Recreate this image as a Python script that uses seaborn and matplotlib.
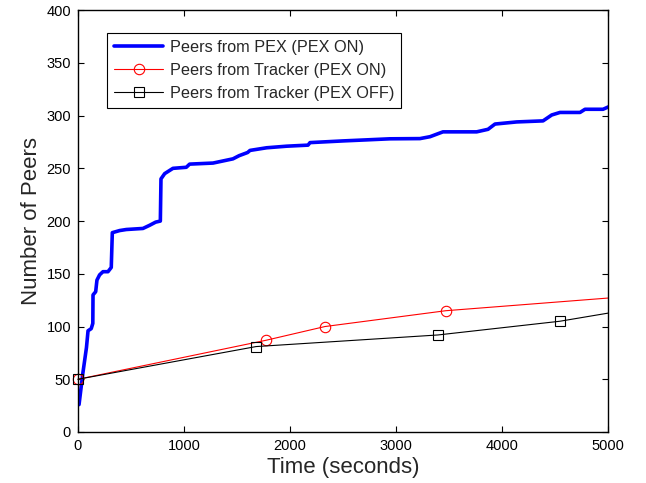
import matplotlib
matplotlib.use("Agg")
import matplotlib.pyplot as plt
import seaborn as sns
import pandas as pd

# ---- data ----
pex_t = [10, 45, 80, 95, 125, 140, 142, 167, 179, 204, 236, 283, 314, 324, 393, 456,
         613, 676, 733, 777, 783, 818, 896, 1022, 1053, 1274, 1462, 1520, 1600, 1623,
         1780, 1969, 2170, 2189, 2500, 2723, 2943, 3226, 3321, 3443, 3761, 3868, 3934,
         4138, 4387, 4469, 4547, 4736, 4783, 4953, 5011]
pex_y = [26, 55, 80, 96, 98, 103, 130, 133, 144, 149, 152, 152, 156, 189, 191, 192,
         193, 196, 199, 200, 240, 245, 250, 251, 254, 255, 259, 262, 265, 267,
         269.5, 271, 272, 274.4, 276, 277, 278, 278.2, 280, 284.6, 284.6, 287, 292,
         294, 295, 300.6, 303, 303, 306, 306, 308.6]

trk_on_t = [0, 1775, 2330, 3470, 5000]
trk_on_y = [50, 87, 100, 115, 127]

trk_off_t = [0, 1680, 3395, 4545, 5000]
trk_off_y = [50, 81, 92, 105, 112.7]

labels = ["Peers from PEX (PEX ON)", "Peers from Tracker (PEX ON)",
          "Peers from Tracker (PEX OFF)"]
x_ticks = [0, 1000, 2000, 3000, 4000, 5000]
y_ticks = [0, 50, 100, 150, 200, 250, 300, 350, 400]

sns.set_style("ticks")
plt.rcParams["font.family"] = ["Liberation Sans", "DejaVu Sans"]
plt.rcParams["xtick.direction"] = "in"
plt.rcParams["ytick.direction"] = "in"

fig = plt.figure(figsize=(6.46, 4.83), dpi=100)
ax = fig.add_axes([0.1207, 0.1056, 0.8205, 0.8734])

df_pex = pd.DataFrame({"t": pex_t, "y": pex_y})
df_on = pd.DataFrame({"t": trk_on_t, "y": trk_on_y})
df_off = pd.DataFrame({"t": trk_off_t, "y": trk_off_y})

sns.lineplot(data=df_pex, x="t", y="y", ax=ax, sort=False, estimator=None,
             color="#0000ff", linewidth=2.6, label=labels[0])
sns.lineplot(data=df_on, x="t", y="y", ax=ax, sort=False, estimator=None,
             color="#ff0000", linewidth=0.8, marker="o", markersize=7.5,
             markerfacecolor="none", markeredgecolor="#ff0000", markeredgewidth=0.8,
             markevery=[0, 1, 2, 3], label=labels[1], clip_on=False)
sns.lineplot(data=df_off, x="t", y="y", ax=ax, sort=False, estimator=None,
             color="black", linewidth=0.8, marker="s", markersize=6.5,
             markerfacecolor="none", markeredgecolor="black", markeredgewidth=0.8,
             markevery=[0, 1, 2, 3], label=labels[2], clip_on=False)

ax.set_xlim(0, 5000)
ax.set_ylim(0, 400)
ax.set_xticks(x_ticks)
ax.set_yticks(y_ticks)
ax.tick_params(axis="both", which="both", direction="in", length=4, width=0.8,
               labelsize=10.5, top=True, right=True, pad=5, colors="black")
for s in ax.spines.values():
    s.set_visible(True)
    s.set_color("black")
    s.set_linewidth(1.0)

ax.set_xlabel("Time (seconds)", fontsize=16, labelpad=3)
ax.set_ylabel("Number of Peers", fontsize=16, labelpad=3)

leg = ax.legend(loc="upper left", bbox_to_anchor=(0.054, 0.947), fontsize=11.7,
                frameon=True, fancybox=False, framealpha=1, edgecolor="black",
                handlelength=3.05, borderpad=0.45, labelspacing=0.5, handletextpad=0.38,
                borderaxespad=0)
leg.get_frame().set_linewidth(0.8)

fig.savefig("out.png", dpi=100)
